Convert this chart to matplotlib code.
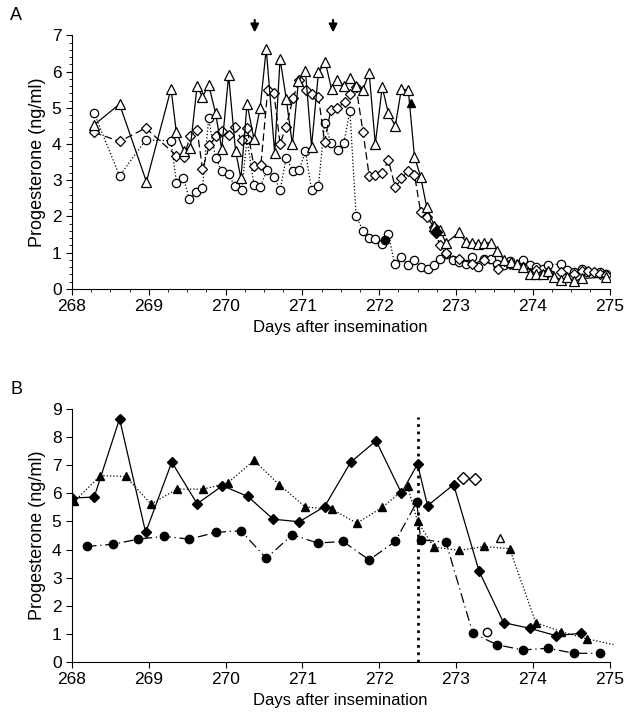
import matplotlib.pyplot as plt
from matplotlib.ticker import MultipleLocator

# ---------- panel A ----------
a_tri_x = [268.29, 268.62, 268.97, 269.29, 269.36, 269.46, 269.54, 269.63, 269.70, 269.78, 269.87, 269.95,
           270.04, 270.13, 270.20, 270.28, 270.37, 270.45, 270.53, 270.64, 270.71, 270.79, 270.87, 270.95,
           271.04, 271.12, 271.21, 271.30, 271.38, 271.45, 271.54, 271.62, 271.70, 271.79, 271.87, 271.95,
           272.04, 272.12, 272.21, 272.29, 272.38, 272.46, 272.54, 272.62, 272.72, 272.79, 272.87, 273.04,
           273.13, 273.21, 273.29, 273.37, 273.45, 273.54, 273.63, 273.72, 273.80, 273.87, 273.96, 274.04,
           274.13, 274.20, 274.28, 274.37, 274.45, 274.54, 274.64, 274.96]
a_tri_y = [4.53, 5.10, 2.96, 5.52, 4.32, 3.81, 3.88, 5.61, 5.29, 5.64, 4.85, 3.86,
           5.89, 3.82, 3.05, 5.11, 4.13, 4.99, 6.62, 3.75, 6.35, 5.25, 3.99, 5.75,
           6.02, 3.93, 5.98, 6.25, 5.52, 5.77, 5.61, 5.82, 5.59, 5.50, 5.96, 4.00,
           5.57, 4.85, 4.50, 5.52, 5.48, 3.65, 3.10, 2.25, 1.73, 1.64, 1.27, 1.56,
           1.30, 1.28, 1.25, 1.27, 1.28, 1.05, 0.79, 0.75, 0.70, 0.61, 0.42, 0.40,
           0.42, 0.50, 0.33, 0.26, 0.33, 0.21, 0.29, 0.33]

a_dia_x = [268.29, 268.62, 268.96, 269.36, 269.46, 269.54, 269.63, 269.70, 269.79, 269.88, 269.95, 270.04,
           270.12, 270.21, 270.28, 270.37, 270.46, 270.55, 270.63, 270.71, 270.79, 270.88, 270.96, 271.05,
           271.12, 271.21, 271.29, 271.37, 271.45, 271.55, 271.62, 271.70, 271.79, 271.87, 271.95, 272.04,
           272.12, 272.21, 272.29, 272.38, 272.46, 272.54, 272.62, 272.71, 272.79, 272.87, 273.04, 273.21,
           273.37, 273.55, 273.71, 273.87, 274.04, 274.20, 274.37, 274.54, 274.64, 274.72, 274.80, 274.88, 274.96]
a_dia_y = [4.32, 4.07, 4.44, 3.68, 3.65, 4.22, 4.39, 3.30, 3.96, 4.23, 4.36, 4.25,
           4.48, 4.10, 4.44, 3.38, 3.42, 5.50, 5.41, 4.00, 4.48, 5.27, 5.76, 5.48,
           5.38, 5.30, 4.05, 4.94, 4.99, 5.15, 5.38, 5.57, 4.33, 3.13, 3.15, 3.19,
           3.56, 2.80, 3.05, 3.26, 3.15, 2.13, 1.99, 1.72, 1.21, 0.98, 0.84, 0.70,
           0.79, 0.56, 0.70, 0.61, 0.52, 0.47, 0.47, 0.42, 0.50, 0.49, 0.47, 0.42, 0.38]

a_cir_x = [268.29, 268.62, 268.96, 269.29, 269.36, 269.45, 269.53, 269.62, 269.70, 269.78, 269.87, 269.95,
           270.04, 270.12, 270.21, 270.28, 270.37, 270.45, 270.54, 270.63, 270.71, 270.79, 270.88, 270.96,
           271.04, 271.12, 271.21, 271.29, 271.37, 271.46, 271.54, 271.62, 271.70, 271.79, 271.87, 271.95,
           272.04, 272.12, 272.20, 272.29, 272.37, 272.45, 272.54, 272.63, 272.71, 272.79, 272.87, 272.96,
           273.04, 273.13, 273.21, 273.29, 273.37, 273.45, 273.54, 273.63, 273.71, 273.87, 273.96, 274.04,
           274.13, 274.20, 274.37, 274.45, 274.54, 274.64, 274.71, 274.87, 274.96]
a_cir_y = [4.85, 3.12, 4.11, 4.09, 2.93, 3.07, 2.47, 2.67, 2.78, 4.71, 3.61, 3.26,
           3.16, 2.84, 2.73, 4.13, 2.87, 2.82, 3.27, 3.10, 2.73, 3.61, 3.26, 3.28,
           3.81, 2.73, 2.85, 4.58, 4.04, 3.84, 4.04, 4.90, 2.01, 1.60, 1.42, 1.37,
           1.23, 1.53, 0.70, 0.89, 0.65, 0.79, 0.61, 0.54, 0.67, 0.84, 0.96, 0.79,
           0.75, 0.70, 0.89, 0.61, 0.84, 0.84, 0.70, 0.65, 0.77, 0.79, 0.65, 0.61,
           0.56, 0.65, 0.70, 0.52, 0.47, 0.54, 0.47, 0.47, 0.42]

a_fill_x = [272.41, 272.74, 272.08]
a_fill_y = [5.13, 1.56, 1.35]
a_fill_m = ['^', 'D', 'o']
a_arrow_x = [270.38, 271.40]

# ---------- panel B ----------
b_dia_x = [268.0, 268.29, 268.62, 268.96, 269.30, 269.63, 269.96, 270.29, 270.62, 270.96, 271.29, 271.63,
           271.96, 272.29, 272.50, 272.63, 272.97, 273.30, 273.62, 273.96, 274.30, 274.63]
b_dia_y = [5.83, 5.87, 8.65, 4.61, 7.11, 5.63, 6.27, 5.89, 5.08, 4.99, 5.53, 7.11,
           7.87, 6.01, 7.04, 5.56, 6.31, 3.24, 1.40, 1.20, 0.94, 1.02]
b_tri_x = [268.03, 268.37, 268.70, 269.03, 269.37, 269.71, 270.03, 270.37, 270.70, 271.04, 271.38, 271.71,
           272.04, 272.37, 272.50, 272.71, 273.04, 273.37, 273.70, 274.04, 274.37, 274.70]
b_tri_y = [5.71, 6.63, 6.60, 5.62, 6.15, 6.15, 6.37, 7.17, 6.31, 5.51, 5.44, 4.94,
           5.50, 6.25, 5.00, 4.09, 3.97, 4.11, 4.03, 1.40, 1.08, 0.83]
b_tri_tail_x = [274.70, 275.05]
b_tri_tail_y = [0.83, 0.62]
b_cir_x = [268.19, 268.54, 268.86, 269.20, 269.53, 269.87, 270.20, 270.53, 270.87, 271.20, 271.53, 271.87,
           272.21, 272.49, 272.54, 272.87, 273.22, 273.54, 273.87, 274.20, 274.54, 274.87]
b_cir_y = [4.11, 4.19, 4.37, 4.47, 4.37, 4.61, 4.67, 3.69, 4.53, 4.23, 4.29, 3.63,
           4.29, 5.69, 4.35, 4.26, 1.02, 0.61, 0.43, 0.49, 0.31, 0.31]
b_open_x = [273.09, 273.25, 273.58, 273.41]
b_open_y = [6.54, 6.51, 4.41, 1.05]
b_open_m = ['D', 'D', '^', 'o']
b_line_x = 272.5

plt.rcParams['font.family'] = 'Liberation Sans'
plt.rcParams['font.size'] = 12

fig = plt.figure(figsize=(6.31, 7.27), dpi=100)
axA = fig.add_axes([0.114, 0.6025, 0.852, 0.349])
axB = fig.add_axes([0.114, 0.0894, 0.852, 0.348])

mk = dict(mfc='white', mec='black', mew=0.9, color='black', lw=0.9)
axA.plot(a_cir_x, a_cir_y, ls=':', marker='o', ms=6, **mk)
axA.plot(a_dia_x, a_dia_y, ls=(0, (6, 3)), marker='D', ms=5, **mk)
axA.plot(a_tri_x, a_tri_y, ls='-', marker='^', ms=7, **mk)
for x, y, m in zip(a_fill_x, a_fill_y, a_fill_m):
    axA.plot(x, y, marker=m, ms=6, color='black', ls='none')
for x in a_arrow_x:
    axA.annotate('', xy=(x, 7.0), xytext=(x, 7.5), xycoords='data', annotation_clip=False,
                 arrowprops=dict(arrowstyle='-|>', color='black', lw=1.5, mutation_scale=12))

axB.plot(b_dia_x, b_dia_y, ls='-', marker='D', ms=5, color='black', lw=0.9)
axB.plot(b_tri_x, b_tri_y, ls=':', marker='^', ms=6, color='black', lw=0.9)
axB.plot(b_tri_tail_x, b_tri_tail_y, ls=':', color='black', lw=0.9, clip_on=False)
axB.plot(b_cir_x, b_cir_y, ls=(0, (8, 3, 1, 3)), marker='o', ms=6, color='black', lw=0.9)
for x, y, m in zip(b_open_x, b_open_y, b_open_m):
    axB.plot(x, y, marker=m, ms=6, mfc='white', mec='black', ls='none')
axB.axvline(b_line_x, ymin=0, ymax=0.97, color='black', ls=':', lw=2)

for ax, top, lab in [(axA, 7, 'A'), (axB, 9, 'B')]:
    ax.set_xlim(268, 275)
    ax.set_ylim(0, top)
    ax.set_yticks(range(0, top + 1))
    ax.set_xticks(range(268, 276))
    ax.spines['top'].set_visible(False)
    ax.spines['right'].set_visible(False)
    ax.tick_params(labelsize=12.5, direction='out', length=4)
    ax.set_xlabel('Days after insemination', fontsize=12)
    ax.set_ylabel('Progesterone (ng/ml)', fontsize=13)
    ax.text(-0.115, 1.06, lab, transform=ax.transAxes, fontsize=13)

axA.xaxis.set_minor_locator(MultipleLocator(0.25))
axA.yaxis.set_minor_locator(MultipleLocator(0.2))
axA.tick_params(which='minor', length=2.5)

fig.savefig('out.png', dpi=100)
